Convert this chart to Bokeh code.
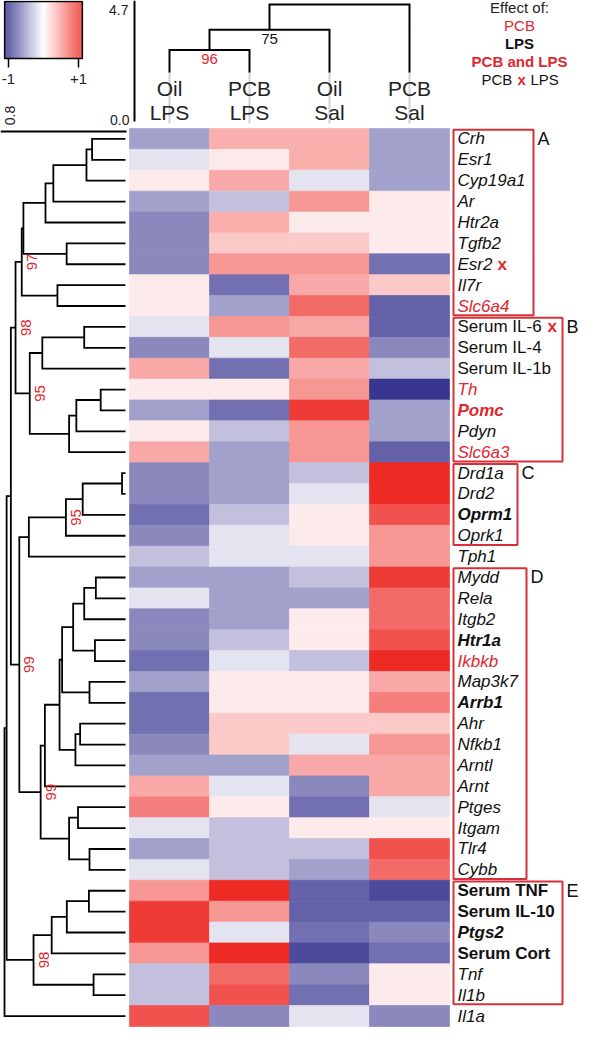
import numpy as np
from bokeh.plotting import figure
from bokeh.models import Range1d, ColumnDataSource, LinearColorMapper
from bokeh.core.properties import value
from bokeh.embed import file_html
from bokeh.resources import INLINE

# ---------------- data ----------------
genes = ["Crh", "Esr1", "Cyp19a1", "Ar", "Htr2a", "Tgfb2", "Esr2", "Il7r", "Slc6a4",
         "Serum IL-6", "Serum IL-4", "Serum IL-1b", "Th", "Pomc", "Pdyn", "Slc6a3",
         "Drd1a", "Drd2", "Oprm1", "Oprk1", "Tph1",
         "Mydd", "Rela", "Itgb2", "Htr1a", "Ikbkb", "Map3k7", "Arrb1", "Ahr", "Nfkb1",
         "Arntl", "Arnt", "Ptges", "Itgam", "Tlr4", "Cybb",
         "Serum TNF", "Serum IL-10", "Ptgs2", "Serum Cort", "Tnf", "Il1b", "Il1a"]

treatment = ["Oil", "PCB", "Oil", "PCB"]
challenge = ["LPS", "LPS", "Sal", "Sal"]

oil_lps = [-0.44, -0.13, 0.10, -0.44, -0.56, -0.56, -0.56, 0.10, 0.10,
           -0.13, -0.56, 0.40, 0.10, -0.44, 0.10, 0.40,
           -0.56, -0.56, -0.67, -0.56, -0.29,
           -0.44, -0.13, -0.56, -0.56, -0.67, -0.44, -0.67, -0.67, -0.56, -0.44, 0.40, 0.60, -0.13, -0.44, -0.13,
           0.49, 0.92, 0.92, 0.49, -0.29, -0.29, 0.81]
pcb_lps = [0.37, 0.10, 0.40, -0.29, 0.37, 0.25, 0.49, -0.67, -0.44,
           0.49, -0.13, -0.67, 0.10, -0.67, -0.29, -0.44,
           -0.44, -0.44, -0.29, -0.13, -0.13,
           -0.44, -0.44, -0.44, -0.29, -0.13, 0.10, 0.10, 0.25, 0.25, -0.44, -0.13, 0.10, -0.29, -0.29, -0.29,
           1.00, 0.49, -0.13, 1.00, 0.69, 0.81, -0.56]
oil_sal = [0.37, 0.37, -0.13, 0.49, 0.10, 0.25, 0.49, 0.40, 0.69,
           0.40, 0.69, 0.40, 0.49, 0.92, 0.49, 0.49,
           -0.29, -0.13, 0.10, 0.10, -0.13,
           -0.29, -0.44, 0.10, 0.10, -0.29, 0.10, 0.10, 0.25, -0.13, 0.40, -0.56, -0.67, 0.10, -0.29, -0.44,
           -0.74, -0.74, -0.67, -0.85, -0.56, -0.67, -0.13]
pcb_sal = [-0.44, -0.44, -0.44, 0.10, 0.10, 0.10, -0.67, 0.25, -0.74,
           -0.74, -0.56, -0.29, -0.94, -0.44, -0.44, -0.74,
           1.00, 1.00, 0.81, 0.49, 0.49,
           0.92, 0.69, 0.69, 0.81, 1.00, 0.40, 0.60, 0.25, 0.49, 0.40, 0.40, -0.13, 0.10, 0.81, 0.69,
           -0.85, -0.74, -0.56, -0.67, 0.10, 0.10, -0.56]

effect_pcb = ["Slc6a4", "Th", "Slc6a3", "Ikbkb"]
effect_lps = ["Oprm1", "Htr1a", "Arrb1", "Serum TNF", "Serum IL-10", "Ptgs2", "Serum Cort"]
effect_both = ["Pomc"]
effect_interaction = ["Esr2", "Serum IL-6"]

cluster_names = ["A", "B", "C", "D", "E"]
cluster_first = [0, 9, 16, 21, 36]
cluster_last = [8, 15, 19, 35, 41]

# row linkage: (child a, child b, height); node ids continue after the 43 leaves
row_linkage = [
    (0, 1, 0.221), (43, 2, 0.258), (44, 3, 0.477), (45, 4, 0.529), (5, 6, 0.389),
    (46, 47, 0.675), (7, 8, 0.450), (48, 49, 0.686), (9, 10, 0.273), (51, 11, 0.550),
    (12, 13, 0.164), (53, 14, 0.325), (54, 15, 0.373), (52, 55, 0.633), (50, 56, 0.727),
    (16, 17, 0.023), (58, 18, 0.283), (59, 19, 0.394), (60, 20, 0.639), (21, 22, 0.196),
    (62, 23, 0.273), (24, 25, 0.202), (63, 64, 0.346), (26, 27, 0.238), (65, 66, 0.419),
    (28, 29, 0.300), (68, 30, 0.331), (67, 69, 0.436), (70, 31, 0.533), (32, 33, 0.314),
    (34, 35, 0.238), (72, 73, 0.373), (71, 74, 0.561), (61, 75, 0.702), (57, 76, 0.758),
    (36, 37, 0.242), (78, 38, 0.388), (79, 39, 0.488), (40, 41, 0.211), (80, 81, 0.608),
    (77, 82, 0.786), (83, 42, 0.800)]
row_boot_nodes = [50, 57, 56, 60, 76, 75, 82]
row_boot_values = ["97", "98", "95", "95", "99", "99", "98"]
row_axis_max = 0.8

col_linkage = [(0, 1, 2.84), (4, 2, 3.67), (5, 3, 4.70)]
col_boot_nodes = [4, 5]
col_boot_values = ["96", "75"]
col_axis_max = 4.7

legend_title = "Effect of:"

# ---------------- layout helpers ----------------
W, H = 580, 1034
HX0, HY0 = 137, 136          # page px of heatmap top-left
PX, PY = 80.0, 898.0 / 43    # px per column / row

def fx(px):
    return (px - HX0) / PX

def fy(py):
    return (py - HY0) / PY

RED = "#e0262e"
TXT = "#111111"
FONT = value("Liberation Sans")

navy = (46, 42, 138)
white = (255, 255, 255)
redc = (238, 42, 36)

def lerp(a, b, t):
    return tuple(int(round(a[i] + (b[i] - a[i]) * t)) for i in range(3))

palette = []
for i in range(256):
    v = -1 + 2 * i / 255
    c = lerp(white, navy, -v) if v < 0 else lerp(white, redc, v)
    palette.append("#%02x%02x%02x" % c)
mapper = LinearColorMapper(palette=palette, low=-1, high=1)

p = figure(width=W, height=H, x_range=Range1d(fx(8), fx(8 + W)),
           y_range=Range1d(fy(8 + H), fy(8)), output_backend="svg",
           toolbar_location=None, x_axis_location=None, y_axis_location=None,
           min_border=0)
p.grid.visible = False
p.outline_line_color = None
p.background_fill_color = "white"
p.border_fill_color = "white"

# ---------------- heatmap ----------------
cols = [oil_lps, pcb_lps, oil_sal, pcb_sal]
hx, hy, hv = [], [], []
for c, vals in enumerate(cols):
    for r, v in enumerate(vals):
        hx.append(c + 0.5)
        hy.append(r + 0.5)
        hv.append(v)
src = ColumnDataSource(dict(x=hx, y=hy, v=hv))
p.rect(x="x", y="y", width=1, height=1, source=src,
       fill_color={"field": "v", "transform": mapper},
       line_color={"field": "v", "transform": mapper}, line_width=0.7)

# ---------------- dendrograms ----------------
def dendro(linkage, n, leaf_h):
    pos = {i: i + 0.5 for i in range(n)}
    hgt = {i: leaf_h for i in range(n)}
    paths = []
    for k, (a, b, h) in enumerate(linkage):
        node = n + k
        paths.append(([hgt[a], h, h, hgt[b]], [pos[a], pos[a], pos[b], pos[b]]))
        pos[node] = (pos[a] + pos[b]) / 2
        hgt[node] = h
    return paths, pos, hgt

# left (rows): height -> x
row_x0 = fx(133)
row_scale = (fx(133) - fx(12)) / row_axis_max
def rx(h):
    return row_x0 - h * row_scale

paths, rpos, rhgt = dendro(row_linkage, len(genes), 0.0)
p.multi_line(xs=[[rx(h) for h in hs] for hs, ps in paths],
             ys=[ps for hs, ps in paths], line_color="black", line_width=1.8,
             line_join="miter")

bx = [rx(rhgt[nd]) + 10 / PX for nd in row_boot_nodes]
by = [rpos[nd] for nd in row_boot_nodes]
p.text(x=bx, y=by, text=row_boot_values, angle=np.pi / 2, text_font=FONT,
       text_font_size="15px", text_color=RED, text_align="center",
       text_baseline="middle")

# top (columns): height -> y
col_y0 = fy(127)
col_scale = (fy(127) - fy(12)) / col_axis_max
def cy(h):
    return col_y0 - h * col_scale
leaf_top_h = (fy(127) - fy(80)) / col_scale

cpaths, cpos, chgt = dendro(col_linkage, 4, leaf_top_h)
# grey guide lines behind the column labels
p.segment(x0=[c + 0.5 for c in range(4)], y0=[fy(80)] * 4,
          x1=[c + 0.5 for c in range(4)], y1=[fy(131)] * 4,
          line_color="#d0d0d0", line_width=2)
p.multi_line(xs=[ps for hs, ps in cpaths], ys=[[cy(h) for h in hs] for hs, ps in cpaths],
             line_color="black", line_width=2, line_join="miter")
p.text(x=[cpos[nd] for nd in col_boot_nodes],
       y=[cy(chgt[nd]) + 9 / PY for nd in col_boot_nodes],
       text=col_boot_values, text_font=FONT, text_font_size="15px",
       text_color=[RED, "#111111"], text_align="center", text_baseline="middle")

# column labels
p.text(x=[c + 0.5 for c in range(4)], y=[fy(96)] * 4, text=treatment, text_font=FONT,
       text_font_size="21px", text_color="#222222", text_align="center", text_baseline="middle")
p.text(x=[c + 0.5 for c in range(4)], y=[fy(120)] * 4, text=challenge, text_font=FONT,
       text_font_size="21px", text_color="#222222", text_align="center", text_baseline="middle")

# dendrogram axes
p.segment(x0=[fx(142)], y0=[fy(8)], x1=[fx(142)], y1=[fy(129)], line_color="black", line_width=2)
p.segment(x0=[fx(8)], y0=[fy(139)], x1=[fx(134)], y1=[fy(139)], line_color="black", line_width=2)
p.text(x=[fx(136), fx(137)], y=[fy(17), fy(127)], text=["%.1f" % col_axis_max, "0.0"],
       text_font=FONT, text_font_size="14px", text_color="#222222",
       text_align="right", text_baseline="middle")
p.text(x=[fx(17)], y=[fy(123)], text=["%.1f" % row_axis_max], angle=np.pi / 2,
       text_font=FONT, text_font_size="14px", text_color="#222222",
       text_align="center", text_baseline="middle")

# ---------------- colour bar ----------------
CBC, CBS = 51, 35
cb_vals = np.linspace(-1.11, 1.11, 161)
cb_px = CBC + cb_vals * CBS
edges = np.concatenate([[cb_px[0]], (cb_px[1:] + cb_px[:-1]) / 2, [cb_px[-1]]])
p.quad(left=[fx(e) for e in edges[:-1]], right=[fx(e) for e in edges[1:]],
       top=fy(9), bottom=fy(66),
       fill_color=[palette[int(round((min(max(v, -1), 1) + 1) / 2 * 255))] for v in cb_vals],
       line_color=None)
p.quad(left=fx(edges[0]), right=fx(edges[-1]), top=fy(9), bottom=fy(66),
       fill_color=None, line_color="black", line_width=1.5)
tick_vals = [-1, 1]
tick_labels = ["-1", "+1"]
p.segment(x0=[fx(CBC + t * CBS) for t in tick_vals], y0=fy(66),
          x1=[fx(CBC + t * CBS) for t in tick_vals], y1=fy(75),
          line_color="black", line_width=1.5)
p.text(x=[fx(CBC + t * CBS) for t in tick_vals], y=fy(86), text=tick_labels,
       text_font=FONT, text_font_size="15px", text_color="#222222",
       text_align="center", text_baseline="middle")

# ---------------- legend ----------------
lx = 527
p.text(x=[fx(lx)] * 2, y=[fy(15), fy(33)],
       text=[legend_title, "PCB"], text_font=FONT,
       text_font_size="15px", text_color=["#222222", RED],
       text_align="center", text_baseline="middle")
p.text(x=[fx(lx)] * 2, y=[fy(51), fy(69)], text=["LPS", "PCB and LPS"], text_font=FONT,
       text_font_size="15px", text_color=["#111111", RED], text_font_style="bold",
       text_align="center", text_baseline="middle")
p.text(x=[fx(lx - 38), fx(lx + 11)], y=[fy(87)] * 2, text=["PCB", "LPS"],
       text_font=FONT, text_font_size="15px", text_color="#111111",
       text_align="left", text_baseline="middle")
p.text(x=[fx(lx - 2)], y=[fy(87)], text=["x"], text_font=FONT, text_font_size="15px",
       text_font_style="bold", text_color=RED, text_align="left", text_baseline="middle")

# ---------------- row labels ----------------
label_px = 465
groups = {}
for i, g in enumerate(genes):
    italic = not g.startswith("Serum")
    bold = g in effect_lps or g in effect_both
    color = RED if (g in effect_pcb or g in effect_both) else TXT
    style = ("bold " if bold else "") + ("italic" if italic else "")
    style = style.strip() or "normal"
    groups.setdefault((style, color), []).append(i)
for (style, color), idx in groups.items():
    p.text(x=[fx(label_px)] * len(idx), y=[i + 0.5 for i in idx], text=[genes[i] for i in idx],
           text_font=FONT, text_font_size="17px", text_font_style=style, text_color=color,
           text_align="left", text_baseline="middle")

x_offsets = {"Esr2": 40, "Serum IL-6": 90}
p.text(x=[fx(label_px + x_offsets[g]) for g in effect_interaction],
       y=[genes.index(g) + 0.5 for g in effect_interaction], text=["x"] * len(effect_interaction),
       text_font=FONT, text_font_size="17px", text_font_style="bold", text_color=RED,
       text_align="left", text_baseline="middle")

box_right = [541, 570, 525, 534, 570]
p.quad(left=[fx(461)] * 5, right=[fx(r) for r in box_right],
       top=[f + 0.06 for f in cluster_first], bottom=[l + 1 - 0.06 for l in cluster_last],
       fill_color=None, line_color="#d8303a", line_width=2)
p.text(x=[fx(r + 4) for r in box_right], y=[f + 0.02 for f in cluster_first], text=cluster_names,
       text_font=FONT, text_font_size="18px", text_color="#111111",
       text_align="left", text_baseline="top")

open("out.html", "w").write(file_html(p, INLINE))
